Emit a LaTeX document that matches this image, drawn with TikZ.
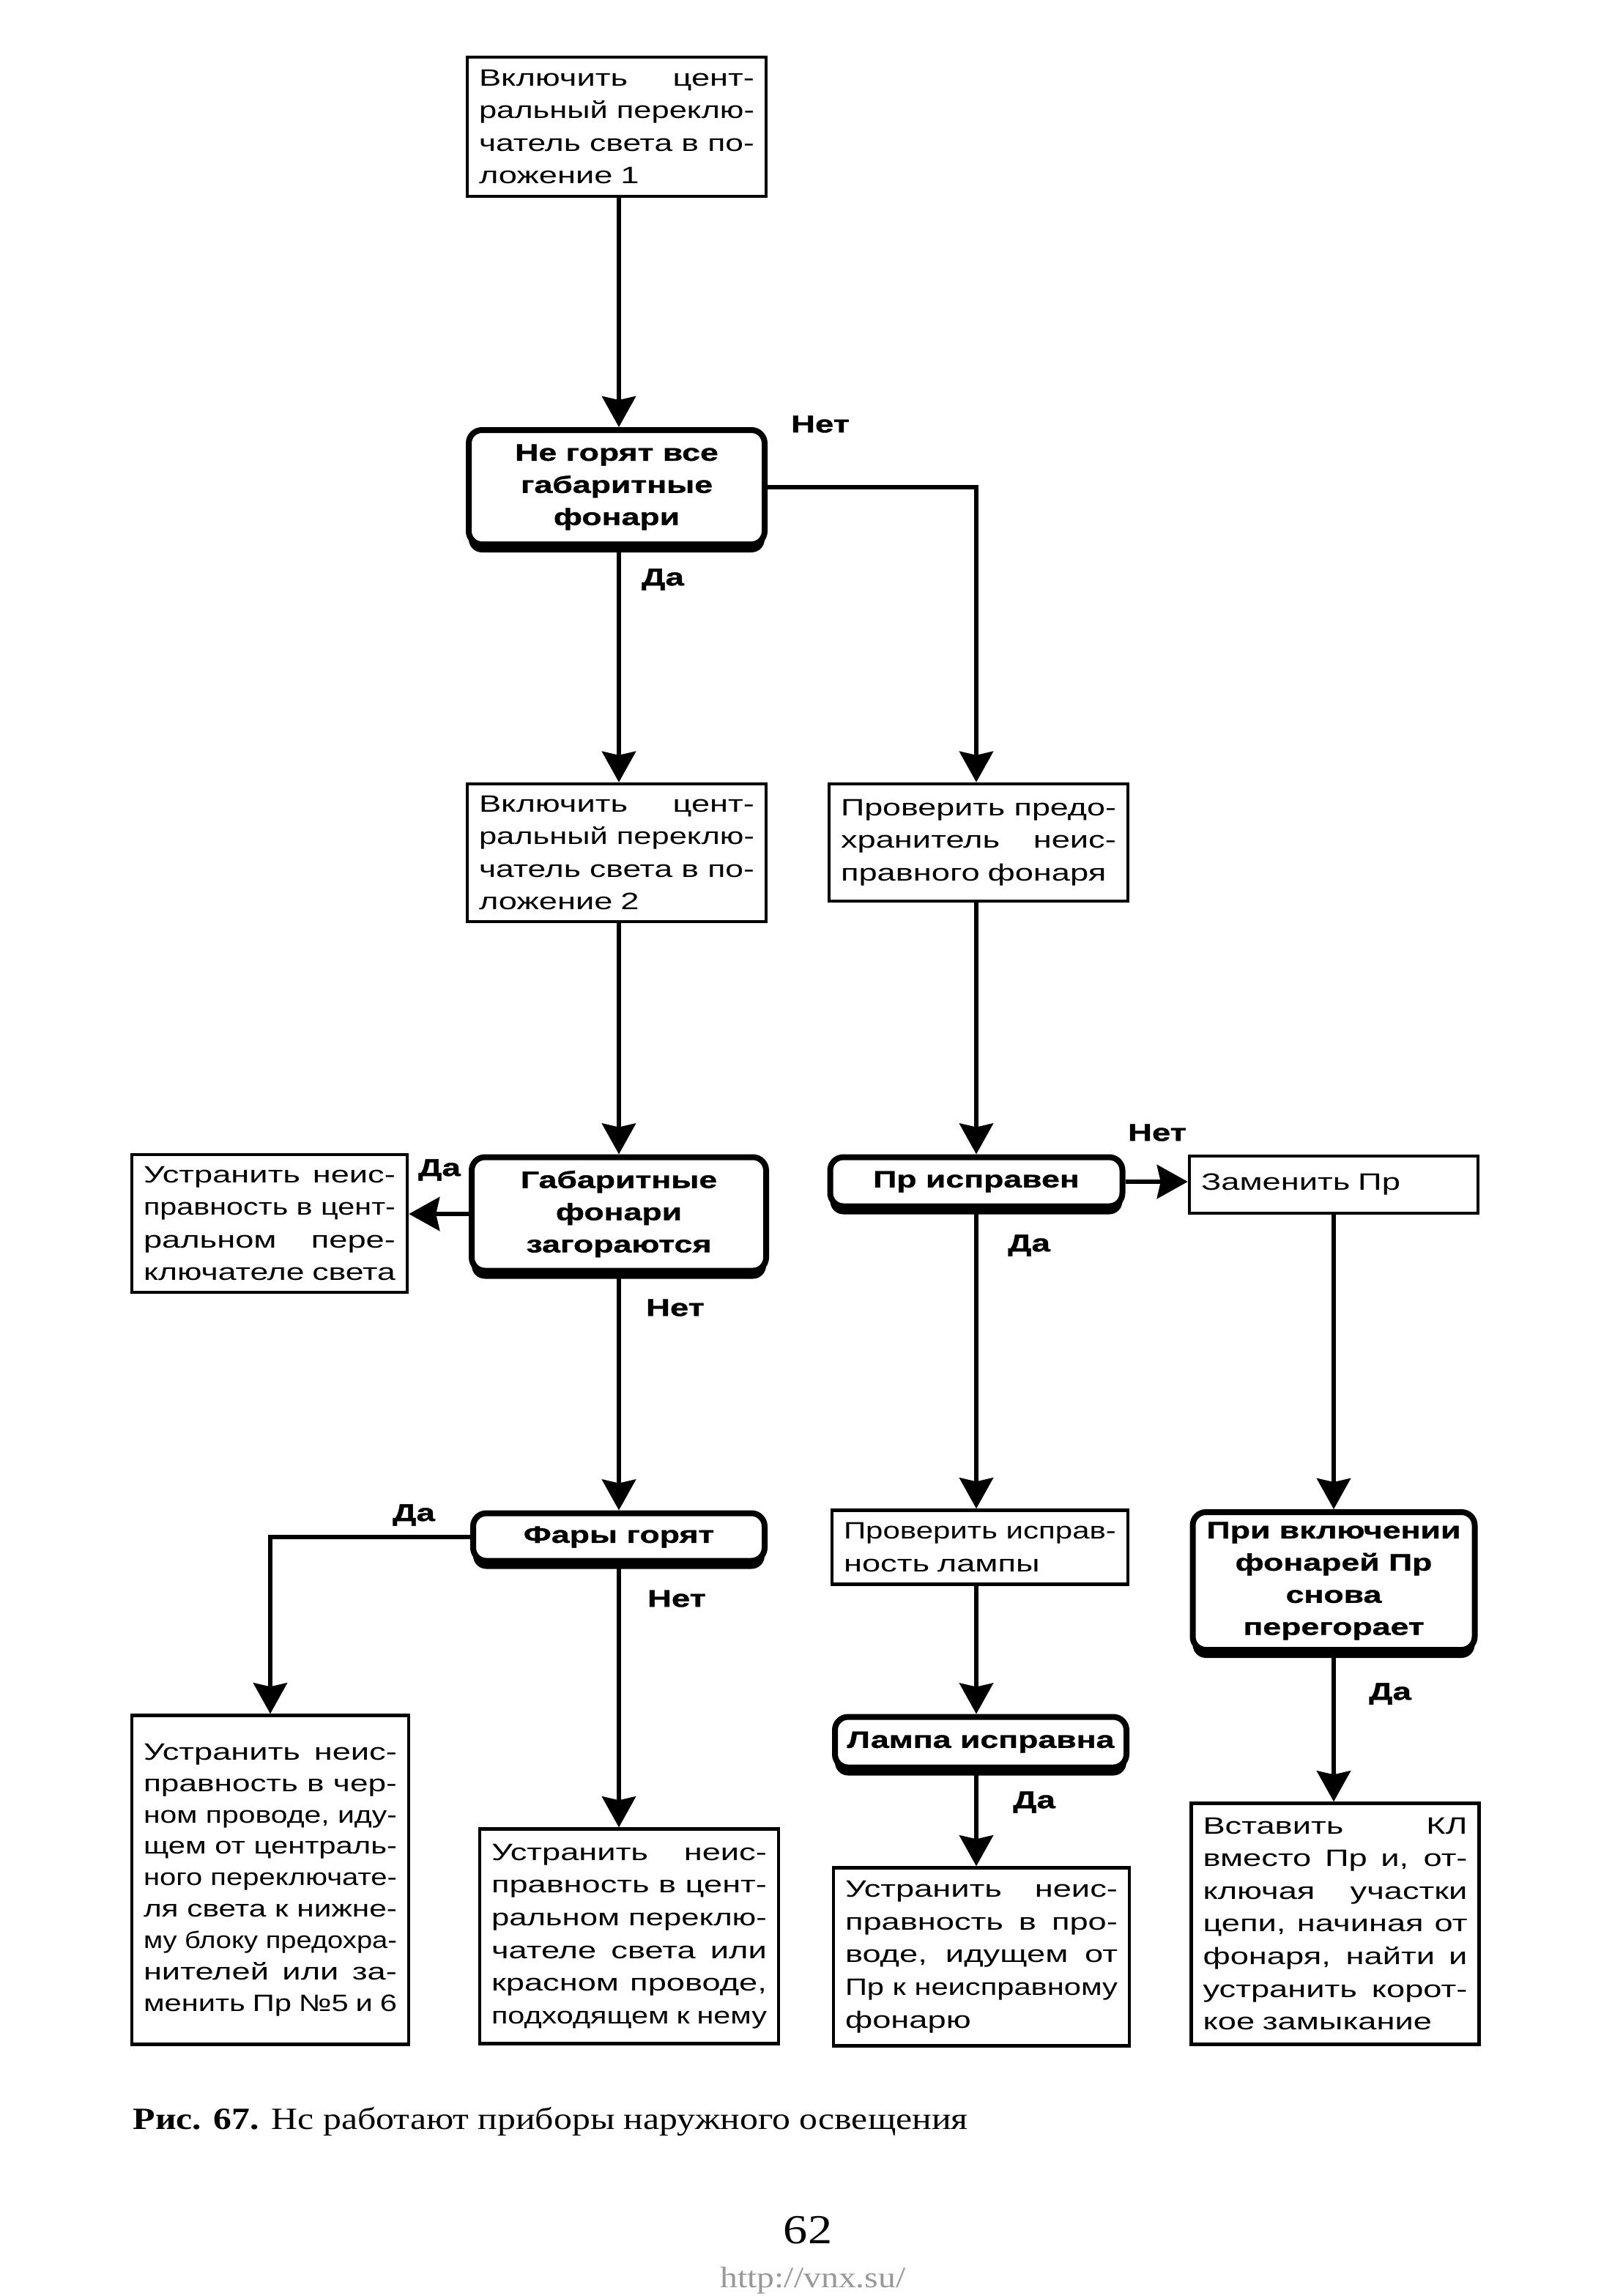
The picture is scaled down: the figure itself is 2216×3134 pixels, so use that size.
\documentclass[tikz,border=0pt]{standalone}
\usepackage{fontspec}
\setmainfont{Liberation Sans}[FakeStretch=1.4]
\newfontfamily\blk{Liberation Sans}[FakeStretch=1.38,FakeBold=1.2]
\newfontfamily\capfont{Liberation Serif}[FakeStretch=1.18]
\usepackage{graphicx}
\usetikzlibrary{arrows.meta,shadows}
\newsavebox\jlbox
\newlength\jldim
% justified line (scaled down if too wide)
\newcommand\jlz[1]{\sbox\jlbox{\spaceskip=0pt\relax\xspaceskip=0pt\relax #1}\setlength\jldim{\wd\jlbox}%
  \ifdim\jldim>\linewidth
    \pgfmathsetmacro\jlr{\linewidth/\jldim}\scalebox{\jlr}[1]{\usebox\jlbox}%
  \else\makebox[\linewidth][s]{\spaceskip=0pt\relax\xspaceskip=0pt\relax #1}\fi}
\newcommand\jl[1]{\jlz{#1}\\}
% last line: natural width, scaled down if too wide
\newcommand\jn[1]{\sbox\jlbox{#1}\setlength\jldim{\wd\jlbox}%
  \ifdim\jldim>\linewidth
    \pgfmathsetmacro\jlr{\linewidth/\jldim}\scalebox{\jlr}[1]{\usebox\jlbox}%
  \else\usebox\jlbox\fi}
\tikzset{
  bx/.style={draw, line width=0.45mm, fill=white, inner xsep=1.6mm, inner ysep=0.5mm,
    align=left, font=\fontsize{9.2}{12.7}\selectfont},
  dc/.style={draw, line width=0.8mm, rounded corners=1.8mm, fill=white, align=center,
    inner sep=0.5mm, font=\blk\bfseries\fontsize{9.2}{12.5}\selectfont,
    drop shadow={shadow xshift=0mm, shadow yshift=-1.1mm, fill=black, opacity=1}},
  lbl/.style={font=\blk\bfseries\fontsize{9.4}{11}\selectfont, inner sep=0pt},
  arr/.style={line width=0.6mm, -{Stealth[length=4.2mm,width=4.6mm,inset=0.5mm]}},
}
\begin{document}
\begin{tikzpicture}[x=0.1mm,y=-0.1mm]
\useasboundingbox[fill=white] (0,0) rectangle (2216,3134);
\coordinate (cA) at (845,0);
\coordinate (cB) at (1333,0);
\coordinate (cC) at (1821,0);

% boxes
\node[bx, text width=37.6mm, minimum height=19mm] (N1) at (842,173)
  {\jl{Включить цент-}\jl{ральный переклю-}\jl{чатель света в по-}\jn{ложение 1}};
\node[bx, text width=37.6mm, minimum height=18.8mm] (A2) at (842,1164)
  {\jl{Включить цент-}\jl{ральный переклю-}\jl{чатель света в по-}\jn{ложение 2}};
\node[bx, text width=37.6mm, minimum height=16mm] (B1) at (1336,1150)
  {\jl{Проверить предо-}\jl{хранитель неис-}\jn{правного фонаря}};
\node[bx, text width=34.4mm, minimum height=18.8mm] (L1) at (368,1670)
  {\jl{Устранить неис-}\jl{правность в цент-}\jl{ральном пере-}\jn{ключателе света}};
\node[bx, text width=36.2mm, minimum height=7.8mm] (Z) at (1821,1617)
  {Заменить Пр};
\node[bx, text width=34.6mm, minimum height=44.9mm, font=\fontsize{9.2}{12.2}\selectfont] (L2) at (369,2566)
  {\jl{Устранить неис-}\jl{правность в чер-}\jl{ном проводе, иду-}\jl{щем от централь-}\jl{ного переключате-}\jl{ля света к нижне-}\jl{му блоку предохра-}\jl{нителей или за-}\jn{менить Пр №5 и 6}};
\node[bx, text width=37.6mm, minimum height=29.3mm] (M2) at (859,2643)
  {\jl{Устранить неис-}\jl{правность в цент-}\jl{ральном переклю-}\jl{чателе света или}\jl{красном проводе,}\jn{подходящем к нему}};
\node[bx, text width=37.2mm, minimum height=10.1mm] (B2) at (1338,2112)
  {\jl{Проверить исправ-}\jn{ность лампы}};
\node[bx, text width=37.2mm, minimum height=24.3mm] (B3) at (1340,2671)
  {\jl{Устранить неис-}\jl{правность в про-}\jl{воде, идущем от}\jl{Пр к неисправному}\jn{фонарю}};
\node[bx, text width=36.1mm, minimum height=32.9mm] (C2) at (1823,2626)
  {\jl{Вставить КЛ}\jl{вместо Пр и, от-}\jl{ключая участки}\jl{цепи, начиная от}\jl{фонаря, найти и}\jl{устранить корот-}\jn{кое замыкание}};

% decisions
\node[dc, minimum width=40.4mm, minimum height=15.6mm] (D1) at (842,665)
  {Не горят все\\габаритные\\фонари};
\node[dc, minimum width=40.2mm, minimum height=15.5mm] (D2) at (845,1657)
  {Габаритные\\фонари\\загораются};
\node[dc, minimum width=39.9mm, minimum height=6.7mm] (D3) at (1333,1613)
  {Пр исправен};
\node[dc, minimum width=39.8mm, minimum height=6.5mm] (D4) at (845,2098)
  {Фары горят};
\node[dc, minimum width=38.5mm, minimum height=18.8mm] (D5) at (1821,2158)
  {При включении\\фонарей Пр\\снова\\перегорает};
\node[dc, minimum width=39.8mm, minimum height=6.9mm] (D6) at (1339,2378)
  {Лампа исправна};

% labels
\node[lbl] (t1) at (1120,579) {Нет};
\node[lbl] (t2) at (905,791) {Да};
\node[lbl] (t3) at (600,1597) {Да};
\node[lbl] (t4) at (922,1785) {Нет};
\node[lbl] (t5) at (1580,1546) {Нет};
\node[lbl] (t6) at (1405,1700) {Да};
\node[lbl] (t7) at (565,2068) {Да};
\node[lbl] (t8) at (924,2182) {Нет};
\node[lbl] (t9) at (1412,2460) {Да};
\node[lbl] (t10) at (1898,2312) {Да};

% connectors
\draw[arr] (N1.south -| cA) -- (D1.north -| cA);
\draw[arr] (D1.east) -| (B1.north -| cB);
\draw[arr] (D1.south -| cA) -- (A2.north -| cA);
\draw[arr] (A2.south -| cA) -- (D2.north -| cA);
\draw[arr] (B1.south -| cB) -- (D3.north -| cB);
\draw[arr] (D2.west) -- (L1.east |- D2.west);
\draw[arr] (D3.east) -- (Z.west |- D3.east);
\draw[arr] (D2.south -| cA) -- (D4.north -| cA);
\draw[arr] (D3.south -| cB) -- (B2.north -| cB);
\draw[arr] (Z.south -| cC) -- (D5.north -| cC);
\draw[arr] (D4.west) -| (L2.north);
\draw[arr] (D4.south -| cA) -- (M2.north -| cA);
\draw[arr] (B2.south -| cB) -- (D6.north -| cB);
\draw[arr] (D6.south -| cB) -- (B3.north -| cB);
\draw[arr] (D5.south -| cC) -- (C2.north -| cC);

% caption, page number, watermark
\node[anchor=base west, inner sep=0pt] (cap) at (181,2906)
  {\capfont\fontsize{12}{14}\selectfont\textbf{Рис. 67.} Нс работают приборы наружного освещения};
\node[inner sep=0pt] (pg) at (1103,3044) {\capfont\fontsize{16}{18}\selectfont 62};
\node[inner sep=0pt, text=black!40] (wm) at (1110,3113) {\capfont\fontsize{11.5}{13}\selectfont http://vnx.su/};
\end{tikzpicture}
\end{document}
